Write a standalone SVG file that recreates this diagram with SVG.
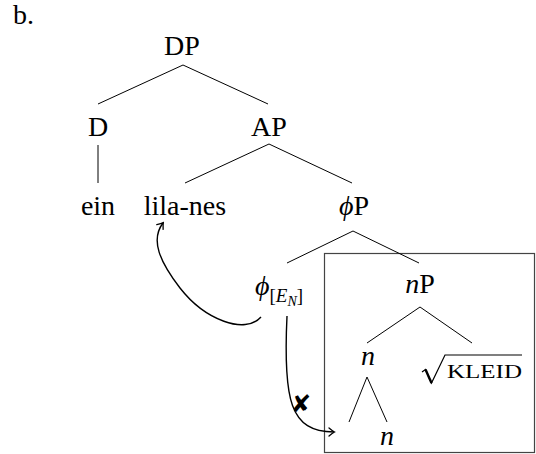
<svg xmlns="http://www.w3.org/2000/svg" width="536" height="454" viewBox="0 0 536 454">
<style>
  .t { font-family: 'Liberation Serif', 'Times New Roman', serif; font-size: 28px; fill: #000; }
  .it { font-style: italic; }
  .sub { font-size: 19px; }
  .subsub { font-size: 14px; font-style: italic; }
  .sc { font-size: 19px; }
  .edge { stroke: #000; stroke-width: 1; fill: none; }
  .arr { stroke: #000; stroke-width: 1.4; fill: none; }
  .box { stroke: #444; stroke-width: 1.2; fill: none; }
  .mark { font-family: 'DejaVu Sans', sans-serif; font-size: 24px; }
</style>
<defs>
  <marker id="to" viewBox="-6 -5 8 10" markerWidth="8" markerHeight="10" refX="0" refY="0" orient="auto" markerUnits="userSpaceOnUse">
    <path d="M-5,-4 Q-1.5,-1 0.5,0 Q-1.5,1 -5,4" stroke="#000" stroke-width="1.3" fill="none" stroke-linecap="round"/>
  </marker>
</defs>

<text id="label-b" class="t" x="13" y="24">b.</text>

<rect id="box" class="box" x="324.5" y="253.5" width="210" height="199"/>

<g id="edges">
  <line class="edge" x1="183" y1="65" x2="98" y2="104"/>
  <line class="edge" x1="183" y1="65" x2="268" y2="104"/>
  <line class="edge" x1="98" y1="145" x2="98" y2="183"/>
  <line class="edge" x1="269" y1="144" x2="185" y2="183"/>
  <line class="edge" x1="269" y1="144" x2="352" y2="183"/>
  <line class="edge" x1="353" y1="231" x2="287" y2="263"/>
  <line class="edge" x1="353" y1="231" x2="419" y2="263"/>
  <line class="edge" x1="420" y1="307" x2="367" y2="343"/>
  <line class="edge" x1="420" y1="307" x2="472" y2="343"/>
  <line class="edge" x1="367" y1="377" x2="349" y2="422"/>
  <line class="edge" x1="367" y1="377" x2="387" y2="422"/>
</g>

<g id="movement">
  <path class="arr" d="M261,317 C245,335 205,320 180,288 C160,262 150,240 163,223" marker-end="url(#to)"/>
  <path class="arr" d="M287,316 C283,400 290,432 334,432" marker-end="url(#to)"/>
  <text class="mark" x="291" y="412">✘</text>
</g>

<g id="node-DP"><text class="t" x="182" y="55" text-anchor="middle">DP</text></g>
<g id="node-D"><text class="t" x="98" y="136" text-anchor="middle">D</text></g>
<g id="node-AP"><text class="t" x="269" y="136" text-anchor="middle">AP</text></g>
<g id="node-ein"><text class="t" x="98" y="215" text-anchor="middle">ein</text></g>
<g id="node-lila-nes"><text class="t" x="185" y="215" text-anchor="middle">lila-nes</text></g>
<g id="node-phiP"><text class="t" x="354" y="215" text-anchor="middle"><tspan class="it">ϕ</tspan>P</text></g>
<g id="node-phi"><text class="t" x="255" y="295"><tspan class="it">ϕ</tspan><tspan class="sub" dy="7">[</tspan><tspan class="sub it">E</tspan><tspan class="subsub" dy="4">N</tspan><tspan class="sub" dy="-4">]</tspan></text></g>
<g id="node-nP"><text class="t" x="420" y="293" text-anchor="middle"><tspan class="it">n</tspan>P</text></g>
<g id="node-n1"><text class="t it" x="368" y="365" text-anchor="middle">n</text></g>
<g id="node-n2"><text class="t it" x="387" y="445" text-anchor="middle">n</text></g>
<g id="node-root">
  <path d="M422,372 L425.5,369.5 L431.5,383 L445,355 L522,355" stroke="#000" stroke-width="1.2" fill="none" stroke-linejoin="miter"/>
  <path d="M425.5,369.5 L431.5,383" stroke="#000" stroke-width="2.4" fill="none"/>
  <text class="t sc" x="447" y="378" textLength="75" lengthAdjust="spacingAndGlyphs">KLEID</text>
</g>
</svg>
